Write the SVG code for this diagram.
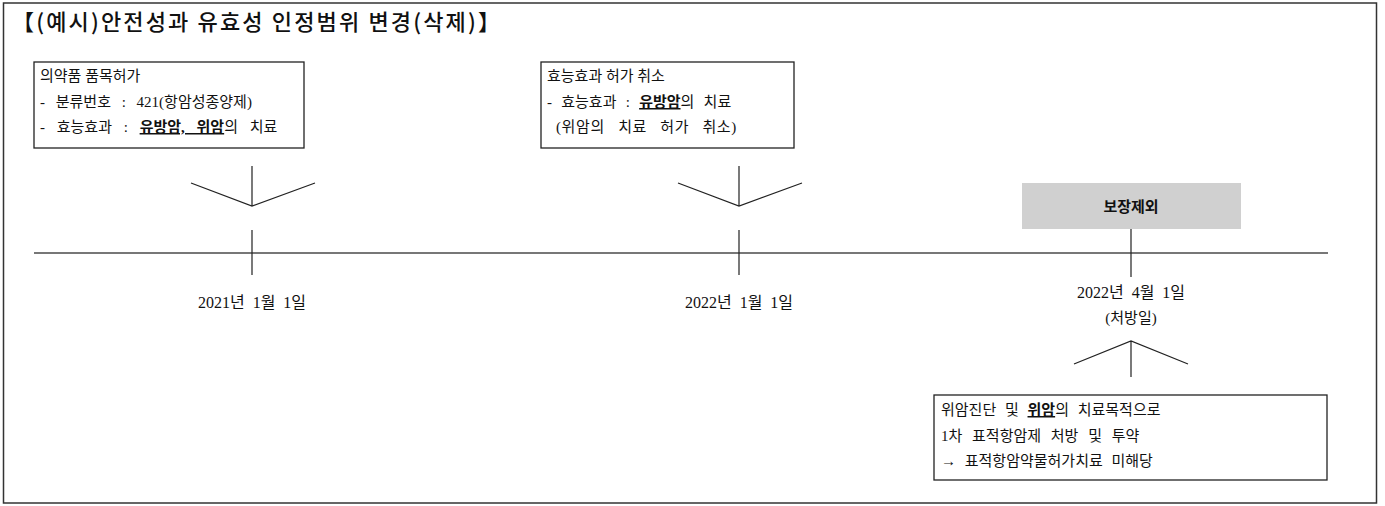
<svg xmlns="http://www.w3.org/2000/svg" width="1385" height="506" viewBox="0 0 1385 506">
<style>
.t{font-family:"Liberation Serif","Noto Sans CJK KR",serif;font-size:15px;fill:#111}
.d{font-family:"Liberation Serif","Noto Sans CJK KR",serif;font-size:16px;fill:#111;word-spacing:4px}
.u{font-weight:bold;text-decoration:underline}
.title{font-family:"Noto Sans CJK KR","Noto Sans",sans-serif;font-size:22px;font-weight:500;fill:#111}
.box{fill:#fff;stroke:#222;stroke-width:1.3}
.ln{stroke:#222;stroke-width:1.2;fill:none}
</style>
<rect x="3.5" y="3" width="1373" height="500" fill="#fff" stroke="#333" stroke-width="1.5"/>
<text class="title" x="12" y="30" textLength="488" lengthAdjust="spacing">【(예시)안전성과 유효성 인정범위 변경(삭제)】</text>
<g id="connectors">
<line x1="34" y1="253" x2="1328" y2="253" stroke="#777" stroke-width="1.8"/>
<path class="ln" d="M252 166V206M191 183L252 206L315 183M252 230V275"/>
<path class="ln" d="M739 166V206M678 183L739 206L802 183M739 230V275"/>
<path class="ln" d="M1131 229V277M1131 341V377M1074 364L1131 341L1188 364"/>
</g>
<g id="node-approval">
<rect class="box" x="34" y="62" width="270" height="86"/>
<text class="t" x="40" y="81">의약품 품목허가</text>
<text class="t" x="40" y="107" word-spacing="7">- 분류번호 : 421(항암성종양제)</text>
<text class="t" x="40" y="132" word-spacing="8">- 효능효과 : <tspan class="u">유방암, 위암</tspan>의 치료</text>
</g>
<g id="node-cancel">
<rect class="box" x="541" y="62" width="253" height="86"/>
<text class="t" x="547" y="81">효능효과 허가 취소</text>
<text class="t" x="547" y="107" word-spacing="5.5">- 효능효과 : <tspan class="u">유방암</tspan>의 치료</text>
<text class="t" x="556" y="132" word-spacing="9" letter-spacing="0.6">(위암의 치료 허가 취소)</text>
</g>
<g id="node-exclude">
<rect x="1022" y="183" width="219" height="46" fill="#d0d0d0"/>
<text class="t" x="1131" y="212" text-anchor="middle" font-weight="bold" font-size="17">보장제외</text>
</g>
<g id="date-1">
<text class="d" x="252" y="308" text-anchor="middle">2021년 1월 1일</text>
</g>
<g id="date-2">
<text class="d" x="739" y="308" text-anchor="middle">2022년 1월 1일</text>
</g>
<g id="date-3">
<text class="d" x="1131" y="298" text-anchor="middle">2022년 4월 1일</text>
<text class="t" x="1131" y="323" text-anchor="middle">(처방일)</text>
</g>
<g id="node-prescription">
<rect class="box" x="934" y="395" width="393" height="85"/>
<text class="t" x="941" y="415" word-spacing="5">위암진단 및 <tspan class="u">위암</tspan>의 치료목적으로</text>
<text class="t" x="941" y="441" word-spacing="6">1차 표적항암제 처방 및 투약</text>
<text class="t" x="941" y="466" word-spacing="5">→ 표적항암약물허가치료 미해당</text>
</g>
</svg>
